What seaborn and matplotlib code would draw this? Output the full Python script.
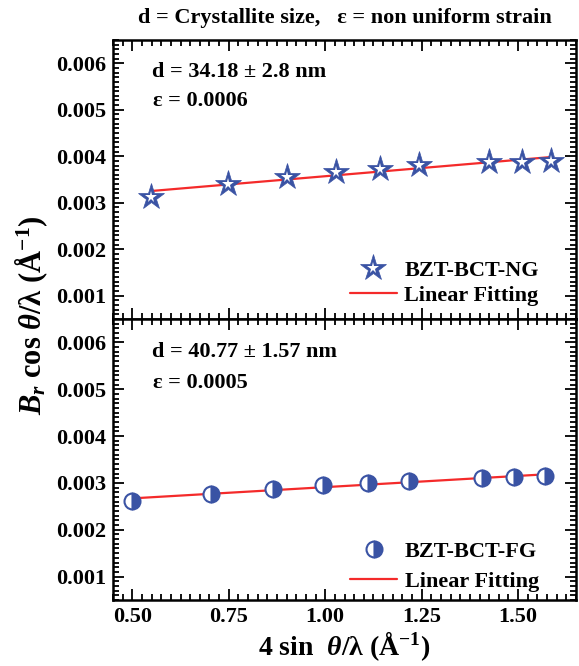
import numpy as np
import pandas as pd
import matplotlib
matplotlib.use("Agg")
import matplotlib.pyplot as plt
import seaborn as sns
from matplotlib.lines import Line2D
from matplotlib.ticker import MultipleLocator

# ---- data ----
x_ng = [0.548, 0.748, 0.901, 1.027, 1.142, 1.243, 1.425, 1.509, 1.585]
y_ng = [0.00312, 0.00341, 0.00355, 0.00366, 0.00373, 0.00382, 0.00387, 0.00388, 0.00389]
x_fg = [0.500, 0.705, 0.864, 0.995, 1.112, 1.217, 1.406, 1.490, 1.569]
y_fg = [0.00261, 0.00276, 0.00287, 0.00296, 0.00300, 0.00304, 0.00310, 0.00312, 0.00314]
yticks = [0.001, 0.002, 0.003, 0.004, 0.005, 0.006]
xticks = [0.50, 0.75, 1.00, 1.25, 1.50]
label_ng = "BZT-BCT-NG"
label_fg = "BZT-BCT-FG"
label_fit = "Linear Fitting"
title = "d = Crystallite size,   \u03b5 = non uniform strain"
ann_ng = ["d = 34.18 \u00b1 2.8 nm", "\u03b5 = 0.0006"]
ann_fg = ["d = 40.77 \u00b1 1.57 nm", "\u03b5 = 0.0005"]

sns.set_theme(style="ticks")
plt.rcParams["font.family"] = ["Liberation Serif", "DejaVu Serif"]
plt.rcParams["font.weight"] = "bold"
plt.rcParams["text.color"] = "black"
plt.rcParams["axes.labelcolor"] = "black"
plt.rcParams["xtick.color"] = "black"
plt.rcParams["ytick.color"] = "black"
plt.rcParams["mathtext.fontset"] = "custom"
plt.rcParams["mathtext.rm"] = "Liberation Serif:bold"
plt.rcParams["mathtext.it"] = "Liberation Serif:italic:bold"
plt.rcParams["mathtext.bf"] = "Liberation Serif:bold"

BLUE = "#3a53a4"
RED = "#f42a2a"

fig = plt.figure(figsize=(5.79, 6.66), dpi=100)
L, R = 113 / 579, 576 / 579
top_ax = fig.add_axes([L, 1 - 319 / 666, R - L, (319 - 40) / 666])
bot_ax = fig.add_axes([L, 1 - 600 / 666, R - L, (600 - 319) / 666], sharex=top_ax)

df_ng = pd.DataFrame({"x": x_ng, "y": y_ng})
df_fg = pd.DataFrame({"x": x_fg, "y": y_fg})

STAR_OUT = dict(marker="*", markersize=20, markerfacecolor=BLUE,
                markeredgecolor=BLUE, markeredgewidth=0.5)
STAR_IN = dict(marker="*", markersize=8.5, markerfacecolor="white",
               markeredgecolor="white", markeredgewidth=0)
CIRC = dict(marker="o", markersize=11.5, fillstyle="right",
            markerfacecolor=BLUE, markerfacecoloralt="white",
            markeredgecolor=BLUE, markeredgewidth=1.5)

# top panel
sns.regplot(data=df_ng, x="x", y="y", ax=top_ax, scatter=False, ci=None, truncate=True,
            color=RED, line_kws=dict(lw=1.6, zorder=2))
sns.lineplot(data=df_ng, x="x", y="y", ax=top_ax, estimator=None, sort=False,
             linestyle="", color=BLUE, zorder=3, **STAR_OUT)
sns.lineplot(data=df_ng, x="x", y="y", ax=top_ax, estimator=None, sort=False,
             linestyle="", color="white", zorder=4, **STAR_IN)
# bottom panel
sns.regplot(data=df_fg, x="x", y="y", ax=bot_ax, scatter=False, ci=None, truncate=True,
            color=RED, line_kws=dict(lw=1.6, zorder=2))
sns.lineplot(data=df_fg, x="x", y="y", ax=bot_ax, estimator=None, sort=False,
             linestyle="", color=BLUE, zorder=3, **CIRC)

for ax in (top_ax, bot_ax):
    ax.set_xlim(0.45, 1.65)
    ax.set_ylim(0.0005, 0.0065)
    ax.set_yticks(yticks)
    ax.set_yticklabels([f"{v:.3f}" for v in yticks])
    ax.yaxis.set_minor_locator(MultipleLocator(0.0001))
    ax.set_xticks(xticks)
    ax.xaxis.set_minor_locator(MultipleLocator(0.025))
    ax.tick_params(which="both", direction="in", top=True, right=True, width=1.3,
                   labelsize=16, colors="black", pad=5)
    ax.tick_params(which="major", length=8)
    ax.tick_params(which="minor", length=4)
    for s in ax.spines.values():
        s.set_linewidth(1.8)
        s.set_color("black")
    ax.set_xlabel("")
    ax.set_ylabel("")
    for lab in ax.get_xticklabels() + ax.get_yticklabels():
        lab.set_fontweight("bold")

bot_ax.set_xticklabels([f"{v:.2f}" for v in xticks])
top_ax.tick_params(labelbottom=False)

fig.text((113 + 576) / 2 / 579, 1 - 18 / 666, title, ha="center", va="center",
         fontsize=16, fontweight="bold")

tfs = 16
top_ax.text(0.085, 0.885, ann_ng[0], transform=top_ax.transAxes, fontsize=tfs, fontweight="bold", va="center")
top_ax.text(0.087, 0.78, ann_ng[1], transform=top_ax.transAxes, fontsize=tfs, fontweight="bold", va="center")
bot_ax.text(0.085, 0.883, ann_fg[0], transform=bot_ax.transAxes, fontsize=tfs, fontweight="bold", va="center")
bot_ax.text(0.087, 0.772, ann_fg[1], transform=bot_ax.transAxes, fontsize=tfs, fontweight="bold", va="center")

h_star = (Line2D([], [], linestyle="", **STAR_OUT), Line2D([], [], linestyle="", **STAR_IN))
h_circ = Line2D([], [], linestyle="", **CIRC)
h_fit = Line2D([], [], color=RED, lw=1.6)

top_ax.legend([h_star, h_fit], [label_ng, label_fit], loc="lower right",
              bbox_to_anchor=(0.92, 0.047), frameon=False,
              handlelength=2.1, handletextpad=0.35, labelspacing=0.2,
              borderpad=0, borderaxespad=0, prop=dict(weight="bold", size=tfs))
bot_ax.legend([h_circ, h_fit], [label_fg, label_fit], loc="lower right",
              bbox_to_anchor=(0.92, 0.028), frameon=False,
              handlelength=2.1, handletextpad=0.35, labelspacing=0.45,
              borderpad=0, borderaxespad=0, prop=dict(weight="bold", size=tfs))

fig.text(32 / 579, 1 - 315 / 666, r"$B_r$ cos $\theta$/λ (Å$^{-1}$)", rotation=90,
         ha="center", va="center", fontsize=22, fontweight="bold")
fig.text((113 + 576) / 2 / 579, 1 - 663 / 666, r"4 sin  $\theta$/λ (Å$^{-1}$)",
         ha="center", va="bottom", fontsize=20, fontweight="bold")

fig.savefig("out.png", dpi=100)
